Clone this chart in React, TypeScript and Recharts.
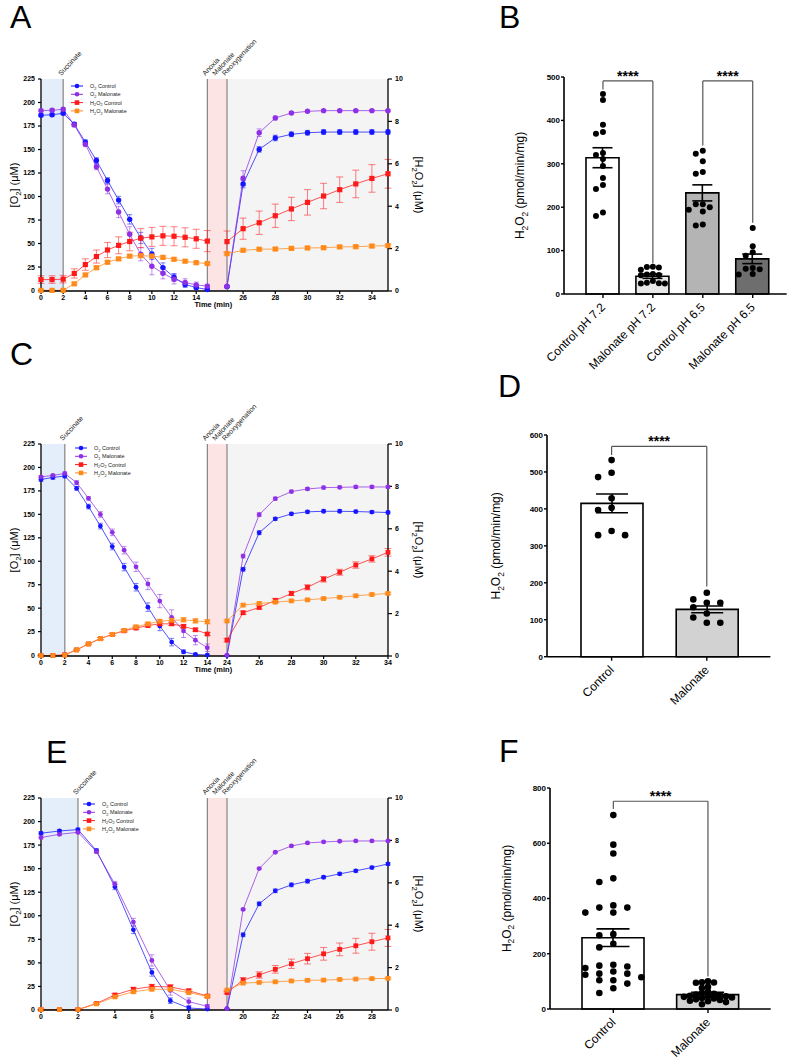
import React from "react";
import {
  LineChart,
  Line,
  XAxis,
  YAxis,
  ErrorBar,
  ReferenceArea,
  ReferenceLine,
  Legend,
  ComposedChart,
  Bar,
  Cell,
  Scatter,
} from "recharts";

const FONT = 'Arial, "Liberation Sans", Helvetica, sans-serif';
const BLUE = "#1515ff";
const PURPLE = "#8f2fe6";
const RED = "#ff1a1a";
const ORANGE = "#ff8a1c";

// ---------- Panel A (time course, pH 7.2) ----------
const aPreT = [0, 1, 2, 3, 4, 5, 6, 7, 8, 9, 10, 11, 12, 13, 14, 15];
const aPreO2Ctrl = [186.4, 187, 188.5, 176.9, 157.8, 138.3, 117, 96.2, 75.7, 55.9, 38.9, 24.4, 14.1, 6.4, 3.2, 1];
const aPreO2CtrlSem = [1.5, 1.5, 1.5, 2, 2.5, 3, 3, 4, 5, 6, 6, 5, 4, 3, 2, 1.5];
const aPreO2Mal = [191.4, 191.7, 192.8, 176.2, 155.6, 131.6, 107.9, 83.5, 59.8, 38.6, 25.8, 18.4, 12, 8.5, 6, 4.6];
const aPreO2MalSem = [1.5, 1.5, 1.5, 2, 2.5, 3, 5, 6, 8, 7, 9, 6, 5, 4, 3, 2];
const aPreH2O2Ctrl = [0.51, 0.51, 0.53, 0.8, 1.22, 1.6, 1.91, 2.13, 2.31, 2.47, 2.53, 2.58, 2.56, 2.51, 2.44, 2.33];
const aPreH2O2CtrlSem = [0.18, 0.18, 0.18, 0.22, 0.27, 0.31, 0.36, 0.4, 0.44, 0.45, 0.45, 0.45, 0.45, 0.45, 0.45, 0.5];
const aPreH2O2Mal = [0, 0, 0, 0.31, 0.73, 1.07, 1.33, 1.49, 1.62, 1.64, 1.62, 1.56, 1.47, 1.38, 1.31, 1.27];
const aPreH2O2MalSem = [0.03, 0.03, 0.03, 0.05, 0.06, 0.07, 0.07, 0.07, 0.07, 0.07, 0.07, 0.07, 0.06, 0.06, 0.06, 0.06];

const aPostT = [25, 26, 27, 28, 29, 30, 31, 32, 33, 34, 35];
const aPostO2Ctrl = [4.6, 113.5, 150.3, 162.4, 166.3, 168, 168.7, 168.7, 168.7, 168.7, 168.7];
const aPostO2CtrlSem = [1, 4, 3, 3, 2.5, 2.5, 2.5, 2.5, 2.5, 2.5, 2.5];
const aPostO2Mal = [5, 119.6, 168, 183.6, 188.9, 190.7, 191.4, 191.4, 191.4, 191.4, 191.4];
const aPostO2MalSem = [1, 8, 4, 2, 1.5, 1, 1, 1, 1, 1, 1];
const aPostH2O2Ctrl = [2.33, 2.94, 3.22, 3.55, 3.87, 4.18, 4.48, 4.78, 5.05, 5.31, 5.53];
const aPostH2O2CtrlSem = [0.5, 0.5, 0.55, 0.55, 0.55, 0.6, 0.6, 0.6, 0.65, 0.65, 0.68];
const aPostH2O2Mal = [1.76, 1.92, 1.97, 1.98, 2.01, 2.03, 2.04, 2.08, 2.09, 2.12, 2.14];
const aPostH2O2MalSem = [0.06, 0.06, 0.06, 0.06, 0.06, 0.06, 0.06, 0.06, 0.06, 0.07, 0.07];

// ---------- Panel C ----------
const cPreT = [0, 1, 2, 3, 4, 5, 6, 7, 8, 9, 10, 11, 12, 13, 14];
const cPreO2Ctrl = [187.2, 189.4, 190.8, 177.7, 158.3, 137.5, 115.7, 93.8, 72.3, 51.1, 31, 13.8, 3.5, 0.7, 0];
const cPreO2CtrlSem = [2, 2, 2, 2, 2.5, 3, 3.5, 4, 4, 4.5, 5, 4, 2, 1, 1];
const cPreO2Mal = [190, 191.5, 193.6, 183.7, 167.1, 149.9, 130.8, 111.8, 94.1, 75.8, 57.5, 40.2, 25.7, 15.9, 7.8];
const cPreO2MalSem = [1, 1, 1.5, 2, 2, 3, 3.5, 4, 5, 6, 7, 8, 7, 5, 4];
const cPreH2O2Ctrl = [0, 0, 0.04, 0.27, 0.55, 0.8, 1.0, 1.17, 1.3, 1.42, 1.5, 1.5, 1.38, 1.22, 1.02];
const cPreH2O2CtrlSem = [0.02, 0.02, 0.02, 0.03, 0.04, 0.05, 0.05, 0.06, 0.06, 0.07, 0.08, 0.08, 0.07, 0.07, 0.07];
const cPreH2O2Mal = [0, 0, 0.02, 0.27, 0.55, 0.8, 1.0, 1.19, 1.36, 1.5, 1.62, 1.67, 1.69, 1.64, 1.6];
const cPreH2O2MalSem = [0.02, 0.02, 0.02, 0.03, 0.04, 0.05, 0.05, 0.06, 0.07, 0.08, 0.09, 0.1, 0.1, 0.1, 0.1];

const cPostT = [24, 25, 26, 27, 28, 29, 30, 31, 32, 33, 34];
const cPostO2Ctrl = [0.5, 92, 130.8, 145.6, 150.9, 153, 153.6, 153.6, 153.3, 152.8, 152.3];
const cPostO2CtrlSem = [0.5, 2, 2, 1.5, 1.5, 1.5, 1.5, 1.5, 1.5, 1.5, 1.5];
const cPostO2Mal = [1, 106, 150, 167, 174.5, 177.3, 178.7, 179, 179.4, 179.4, 179.4];
const cPostO2MalSem = [0.5, 2, 2, 1.5, 1.5, 1.5, 1.5, 1.5, 1.5, 1.5, 1.5];
const cPostH2O2Ctrl = [0.75, 2.04, 2.29, 2.62, 2.95, 3.24, 3.62, 3.95, 4.29, 4.58, 4.89];
const cPostH2O2CtrlSem = [0.08, 0.08, 0.08, 0.1, 0.1, 0.12, 0.13, 0.14, 0.15, 0.15, 0.18];
const cPostH2O2Mal = [1.65, 2.4, 2.48, 2.54, 2.6, 2.65, 2.71, 2.77, 2.84, 2.9, 2.95];
const cPostH2O2MalSem = [0.05, 0.05, 0.05, 0.05, 0.05, 0.05, 0.05, 0.05, 0.05, 0.05, 0.05];

// ---------- Panel E ----------
const ePreT = [0, 1, 2, 3, 4, 5, 6, 7, 8, 9];
const ePreO2Ctrl = [187.6, 190, 191.5, 169.2, 130.7, 85.1, 39.9, 9.9, 2.1, 1];
const ePreO2CtrlSem = [1.5, 1.5, 1.5, 2, 3, 4, 4, 3, 2, 1];
const ePreO2Mal = [183, 186.5, 188.6, 168.1, 133.5, 93.3, 52.6, 20.8, 8.8, 3.9];
const ePreO2MalSem = [1.5, 1.5, 1.5, 2, 3, 4, 6, 5, 4, 2];
const ePreH2O2Ctrl = [0, 0, 0, 0.29, 0.69, 0.96, 1.09, 1.07, 0.89, 0.64];
const ePreH2O2CtrlSem = [0.02, 0.02, 0.02, 0.04, 0.07, 0.09, 0.1, 0.1, 0.08, 0.06];
const ePreH2O2Mal = [0, 0, 0, 0.27, 0.6, 0.84, 0.96, 0.96, 0.8, 0.62];
const ePreH2O2MalSem = [0.02, 0.02, 0.02, 0.03, 0.05, 0.06, 0.07, 0.07, 0.06, 0.05];

const ePostT = [19, 20, 21, 22, 23, 24, 25, 26, 27, 28, 29];
const ePostO2Ctrl = [1.4, 79.8, 112.7, 126.5, 132.8, 136.7, 140.9, 144.5, 147.7, 151.2, 155];
const ePostO2CtrlSem = [0.5, 2, 2, 2, 2, 2, 1.5, 1.5, 1.5, 1.5, 1.5];
const ePostO2Mal = [1.4, 106.7, 150.1, 167.4, 174.1, 177.3, 178.4, 179.1, 179.4, 179.4, 179.4];
const ePostO2MalSem = [0.5, 1, 1, 1, 1, 1, 1, 1, 1, 1, 1];
const ePostH2O2Ctrl = [0.82, 1.41, 1.65, 1.92, 2.18, 2.42, 2.65, 2.86, 3.03, 3.22, 3.4];
const ePostH2O2CtrlSem = [0.05, 0.12, 0.15, 0.18, 0.22, 0.25, 0.3, 0.3, 0.35, 0.4, 0.4];
const ePostH2O2Mal = [0.94, 1.27, 1.3, 1.33, 1.37, 1.4, 1.41, 1.44, 1.46, 1.48, 1.49];
const ePostH2O2MalSem = [0.04, 0.04, 0.04, 0.04, 0.04, 0.04, 0.04, 0.04, 0.04, 0.04, 0.04];

const o2Ticks = [0, 25, 50, 75, 100, 125, 150, 175, 200, 225];
const h2o2Ticks = [0, 2, 4, 6, 8, 10];

// ---------- Bar panels ----------
const bCats = ["Control pH 7.2", "Malonate pH 7.2", "Control pH 6.5", "Malonate pH 6.5"];
const bMeans = [314, 41, 233, 81];
const bSems = [23, 5, 18.5, 11];
const bCtrl72 = [461, 447, 390, 373, 369, 325, 320, 311, 295, 267, 251, 242, 188, 180];
const bMal72 = [63, 62, 61, 56, 46, 45, 44, 43, 30, 26, 25, 24, 24];
const bCtrl65 = [330, 323, 306, 281, 277, 207, 207, 200, 194, 190, 160, 158];
const bMal65 = [152, 110, 96, 88, 60, 58, 57, 46, 45];
const bTicks = [0, 100, 200, 300, 400, 500];

const dCats = ["Control", "Malonate"];
const dMeans = [415, 128];
const dSems = [25.5, 9];
const dCtrl = [532, 498, 486, 429, 403, 397, 340, 329, 329];
const dMal = [173, 155, 146, 146, 134, 117, 106, 92, 92];
const dTicks = [0, 100, 200, 300, 400, 500, 600];

const fCats = ["Control", "Malonate"];
const fMeans = [258, 52];
const fSems = [32, 8];
const fCtrl = [702, 595, 563, 473, 460, 375, 367, 367, 349, 349, 271, 267, 236, 223, 160, 157, 154, 148, 136, 128, 128, 124, 115, 104, 104, 92, 75, 58];
const fMal = [100, 97, 96, 95, 80, 76, 62, 58, 55, 52, 50, 48, 46, 45, 44, 42, 40, 38, 35, 33, 30, 28, 25, 17];
const fTicks = [0, 200, 400, 600, 800];

// layout of the split time axis (page px)
const PLOT_X0 = 41;
const ANOXIA_X = 207.3;
const REOX_X = 227.3;
const PLOT_X1 = 388.3;
const PLOT_H = 212;
const MT = 45;
const XH = 30;
const RIGHT_W = 42;

type Seg = {
  t: number[];
  oc: number[]; ocE: number[];
  om: number[]; omE: number[];
  hc: number[]; hcE: number[];
  hm: number[]; hmE: number[];
};

const seg = (t: number[], oc: number[], ocE: number[], om: number[], omE: number[], hc: number[], hcE: number[], hm: number[], hmE: number[]): Seg =>
  ({ t, oc, ocE, om, omE, hc, hcE, hm, hmE });

const toRows = (s: Seg) =>
  s.t.map((t, i) => ({
    t,
    oc: s.oc[i], ocE: s.ocE[i],
    om: s.om[i], omE: s.omE[i],
    hc: s.hc[i], hcE: s.hcE[i],
    hm: s.hm[i], hmE: s.hmE[i],
  }));

const SERIES = [
  { key: "oc", name: "O_2 Control", color: BLUE, shape: "circle", axis: "o2" },
  { key: "om", name: "O_2 Malonate", color: PURPLE, shape: "circle", axis: "o2" },
  { key: "hc", name: "H_2O_2 Control", color: RED, shape: "square", axis: "h" },
  { key: "hm", name: "H_2O_2 Malonate", color: ORANGE, shape: "square", axis: "h" },
];

// text with "_2" style subscripts as svg tspans
function chem(s: string, fs: number) {
  const parts = s.split(/_(\d)/);
  const out: React.ReactNode[] = [];
  let shifted = false;
  parts.forEach((p, i) => {
    if (p === "") return;
    if (i % 2 === 1) {
      out.push(<tspan key={i} dy={fs * 0.3} fontSize={fs * 0.7}>{p}</tspan>);
      shifted = true;
    } else {
      out.push(<tspan key={i} dy={shifted ? -fs * 0.3 : 0}>{p}</tspan>);
      shifted = false;
    }
  });
  return out;
}

const slantLabel = (text: string, center = false) => (p: any) => {
  const vb = p.viewBox || {};
  const x = (vb.x ?? 0) + (center ? (vb.width ?? 0) / 2 : 0) - 2;
  const y = (vb.y ?? 0) - 3;
  return (
    <text x={x} y={y} transform={`rotate(-47 ${x} ${y})`} fontSize={7} fontFamily={FONT} fill="#222">
      {text}
    </text>
  );
};

// vertical axis title at a fixed spot of the chart surface
const vTitle = (text: string, cx: number, cy: number, angle: number, fs: number) => () =>
  (
    <text x={cx} y={cy} transform={`rotate(${angle} ${cx} ${cy})`} textAnchor="middle" fontSize={fs} fontFamily={FONT} fill="#000">
      {chem(text, fs)}
    </text>
  );

const squareDot = (color: string, s: number) => (p: any) =>
  p.cx == null ? <g key={p.index} /> : <rect key={p.index} x={p.cx - s / 2} y={p.cy - s / 2} width={s} height={s} fill={color} />;
const circleDot = (color: string, r: number) => (p: any) =>
  p.cx == null ? <g key={p.index} /> : <circle key={p.index} cx={p.cx} cy={p.cy} r={r} fill={color} />;

function TcLegend(props: any) {
  const items = [...(props.payload ?? [])].sort(
    (a: any, b: any) => SERIES.findIndex((s) => s.key === a.dataKey) - SERIES.findIndex((s) => s.key === b.dataKey)
  );
  return (
    <svg width={80} height={36} style={{ display: "block" }}>
      {items.map((it: any, i: number) => {
        const y = 3 + i * 8.3;
        return (
          <g key={i}>
            <line x1={0} x2={12} y1={y} y2={y} stroke={it.color} strokeWidth={1} />
            {it.type === "square" ? (
              <rect x={3.7} y={y - 2.3} width={4.6} height={4.6} fill={it.color} />
            ) : (
              <circle cx={6} cy={y} r={2.3} fill={it.color} />
            )}
            <text x={19} y={y + 2} fontSize={5.5} fontFamily={FONT} fill="#222">
              {chem(it.value, 5.5)}
            </text>
          </g>
        );
      })}
    </svg>
  );
}

const axisLine = { stroke: "#000", strokeWidth: 1.3 };
const tickLine = { stroke: "#000", strokeWidth: 1.2 };
const tcTick = { fontSize: 7, fontWeight: 700, fill: "#000", fontFamily: FONT };

function seriesLines(big: boolean) {
  const r = big ? 2.7 : 2.4;
  const s2 = big ? 5.2 : 4.8;
  return SERIES.map((s) => (
    <Line
      key={s.key}
      yAxisId={s.axis}
      dataKey={s.key}
      name={s.name}
      legendType={s.shape as any}
      stroke={s.color}
      strokeOpacity={0.75}
      strokeWidth={1}
      dot={s.shape === "square" ? squareDot(s.color, s2) : circleDot(s.color, r)}
      activeDot={false}
      isAnimationActive={false}
    >
      <ErrorBar
        dataKey={s.key + "E"}
        width={s.shape === "square" ? 3.5 : 2.5}
        stroke={s.color}
        strokeOpacity={0.55}
        strokeWidth={1}
      />
    </Line>
  ));
}

function TimeCourse(props: {
  top: number;
  pre: Seg;
  post: Seg;
  preTicks: number[];
  postTicks: number[];
  legendX: number;
  legendY: number;
  showTime: boolean;
  big: boolean;
}) {
  const { top, pre, post, preTicks, postTicks, legendX, legendY, showTime, big } = props;
  const anoxiaT = pre.t[pre.t.length - 1];
  const leftMax = (anoxiaT * (REOX_X - PLOT_X0)) / (ANOXIA_X - PLOT_X0);
  const postStart = post.t[0];
  const postEnd = post.t[post.t.length - 1];
  const h = MT + PLOT_H + XH;
  const cTop = top - MT;
  const midY = MT + PLOT_H / 2;

  return (
    <>
      <div style={{ position: "absolute", left: 0, top: cTop }}>
        <LineChart width={REOX_X} height={h} data={toRows(pre)} margin={{ top: MT, right: 0, bottom: 0, left: 0 }}>
          <ReferenceArea yAxisId="o2" x1={0} x2={2} fill="#e4eefa" fillOpacity={1} stroke="none" />
          <ReferenceArea
            yAxisId="o2"
            x1={anoxiaT}
            x2={leftMax}
            fill="#fde4e4"
            fillOpacity={1}
            stroke="none"
            label={slantLabel("Malonate", true)}
          />
          <ReferenceLine yAxisId="o2" x={2} stroke="#9a9a9a" strokeWidth={1.5} label={slantLabel("Succinate")} />
          <ReferenceLine yAxisId="o2" x={anoxiaT} stroke="#6f6f6f" strokeWidth={1} label={slantLabel("Anoxia")} />
          <XAxis
            dataKey="t"
            type="number"
            domain={[0, leftMax]}
            ticks={preTicks}
            interval={0}
            height={XH}
            tickSize={3}
            tickMargin={1}
            tick={tcTick}
            axisLine={axisLine}
            tickLine={tickLine}
            label={
              showTime
                ? () => (
                    <text x={REOX_X - 14} y={MT + PLOT_H + 16} textAnchor="middle" fontSize={7.5} fontWeight={700} fontFamily={FONT} fill="#000">
                      Time (min)
                    </text>
                  )
                : undefined
            }
          />
          <YAxis
            yAxisId="o2"
            domain={[0, 225]}
            ticks={o2Ticks}
            interval={0}
            width={PLOT_X0}
            tickSize={3}
            tickMargin={3}
            tick={tcTick}
            axisLine={axisLine}
            tickLine={tickLine}
            label={vTitle("[O_2] (μM)", 17.7, midY, -90, 11)}
          />
          <YAxis yAxisId="h" orientation="right" hide domain={[0, 10]} />
          {seriesLines(big)}
          <Legend
            layout="vertical"
            align="center"
            verticalAlign="middle"
            content={<TcLegend />}
            wrapperStyle={{ left: legendX, top: legendY - cTop - 3, width: 80, height: 36 }}
          />
        </LineChart>
      </div>
      <div style={{ position: "absolute", left: REOX_X, top: cTop }}>
        <LineChart width={PLOT_X1 - REOX_X + RIGHT_W} height={h} data={toRows(post)} margin={{ top: MT, right: 0, bottom: 0, left: 0 }}>
          <ReferenceArea yAxisId="h" x1={postStart} x2={postEnd} fill="#f4f4f4" fillOpacity={1} stroke="none" />
          <ReferenceLine yAxisId="h" x={postStart} stroke="#6f6f6f" strokeWidth={1} label={slantLabel("Reoxygenation")} />
          <XAxis
            dataKey="t"
            type="number"
            domain={[postStart, postEnd]}
            ticks={postTicks}
            interval={0}
            height={XH}
            tickSize={3}
            tickMargin={1}
            tick={tcTick}
            axisLine={axisLine}
            tickLine={tickLine}
          />
          <YAxis yAxisId="o2" hide domain={[0, 225]} />
          <YAxis
            yAxisId="h"
            orientation="right"
            domain={[0, 10]}
            ticks={h2o2Ticks}
            interval={0}
            width={RIGHT_W}
            tickSize={4}
            tickMargin={3}
            tick={tcTick}
            axisLine={axisLine}
            tickLine={tickLine}
            label={vTitle("[H_2O_2] (μM)", PLOT_X1 - REOX_X + 27, midY, 90, 11)}
          />
          {seriesLines(big)}
        </LineChart>
      </div>
    </>
  );
}

// simple beeswarm: horizontal offsets (px) so dots do not overlap
function swarm(vals: number[], ppu: number, step: number, gap: number): number[] {
  const placed: { y: number; x: number }[] = [];
  return vals.map((v) => {
    const y = v * ppu;
    for (let k = 0; k < 60; k++) {
      const x = (k % 2 === 1 ? -1 : 1) * Math.ceil(k / 2) * step;
      if (placed.every((p) => Math.hypot(p.y - y, p.x - x) >= gap)) {
        placed.push({ y, x });
        return x;
      }
    }
    return 0;
  });
}

const RotTick = (p: any) => {
  const { x, y, payload } = p;
  const ax = x + 3;
  const ay = y + 8;
  return (
    <text x={ax} y={ay} transform={`rotate(-45 ${ax} ${ay})`} textAnchor="end" fontSize={12} fontFamily={FONT} fill="#000">
      {payload.value}
    </text>
  );
};

type Bracket = { from: string; to: string; y1: number; top: number; y2: number };

const BT = 14;
const XHB = 80;
const YW = 62;

function BarPanel(props: {
  axisX: number;
  plotTop: number;
  plotH: number;
  plotW: number;
  yMax: number;
  yTicks: number[];
  cats: string[];
  means: number[];
  sems: number[];
  fills: string[];
  dots: number[][];
  steps: number[];
  gaps: number[];
  barSize: number;
  cap: number;
  pad: { left: number; right: number };
  brackets: Bracket[];
  r: number;
  titleX: number;
}) {
  const { axisX, plotTop, plotH, plotW, yMax, yTicks, cats, means, sems, fills, dots, steps, gaps, barSize, cap, pad, brackets, r, titleX } = props;
  const data = cats.map((c, i) => ({ name: c, mean: means[i], sem: sems[i] }));
  const ppu = plotH / yMax;
  const pts = cats.flatMap((c, i) => {
    const dx = swarm(dots[i], ppu, steps[i], gaps[i]);
    return dots[i].map((v, j) => ({ name: c, value: v, dx: dx[j] }));
  });
  return (
    <div style={{ position: "absolute", left: axisX - YW, top: plotTop - BT }}>
      <ComposedChart width={YW + plotW} height={BT + plotH + XHB} data={data} margin={{ top: BT, right: 0, bottom: 0, left: 0 }}>
        <XAxis
          dataKey="name"
          type="category"
          allowDuplicatedCategory={false}
          padding={pad}
          height={XHB}
          interval={0}
          tickSize={4}
          tickMargin={2}
          tick={RotTick}
          axisLine={{ stroke: "#000", strokeWidth: 1.6 }}
          tickLine={{ stroke: "#000", strokeWidth: 1.4 }}
        />
        <YAxis
          domain={[0, yMax]}
          ticks={yTicks}
          interval={0}
          width={YW}
          tickSize={3}
          tickMargin={1}
          tick={{ fontSize: 8, fontWeight: 700, fill: "#000", fontFamily: FONT }}
          axisLine={{ stroke: "#000", strokeWidth: 1.6 }}
          tickLine={{ stroke: "#000", strokeWidth: 1.4 }}
          label={vTitle("H_2O_2 (pmol/min/mg)", titleX, BT + plotH / 2, -90, 12)}
        />
        <Bar dataKey="mean" barSize={barSize} stroke="#000" strokeWidth={1.6} isAnimationActive={false}>
          {fills.map((f, i) => (
            <Cell key={i} fill={f} />
          ))}
          <ErrorBar dataKey="sem" width={cap} stroke="#000" strokeWidth={1.6} />
        </Bar>
        <Scatter
          data={pts}
          dataKey="value"
          isAnimationActive={false}
          shape={(p: any) => <circle cx={p.cx + (p.payload?.dx ?? 0)} cy={p.cy} r={r} fill="#000" />}
        />
        {brackets.flatMap((b, i) => [
          <ReferenceLine key={`a${i}`} segment={[{ x: b.from, y: b.y1 }, { x: b.from, y: b.top }]} stroke="#555" strokeWidth={1.2} />,
          <ReferenceLine
            key={`b${i}`}
            segment={[{ x: b.from, y: b.top }, { x: b.to, y: b.top }]}
            stroke="#555"
            strokeWidth={1.2}
            label={{ value: "****", position: "top", offset: 0, fontSize: 14, fontWeight: 700, fill: "#000", fontFamily: FONT }}
          />,
          <ReferenceLine key={`c${i}`} segment={[{ x: b.to, y: b.top }, { x: b.to, y: b.y2 }]} stroke="#555" strokeWidth={1.2} />,
        ])}
      </ComposedChart>
    </div>
  );
}

const panelA = {
  pre: seg(aPreT, aPreO2Ctrl, aPreO2CtrlSem, aPreO2Mal, aPreO2MalSem, aPreH2O2Ctrl, aPreH2O2CtrlSem, aPreH2O2Mal, aPreH2O2MalSem),
  post: seg(aPostT, aPostO2Ctrl, aPostO2CtrlSem, aPostO2Mal, aPostO2MalSem, aPostH2O2Ctrl, aPostH2O2CtrlSem, aPostH2O2Mal, aPostH2O2MalSem),
};
const panelC = {
  pre: seg(cPreT, cPreO2Ctrl, cPreO2CtrlSem, cPreO2Mal, cPreO2MalSem, cPreH2O2Ctrl, cPreH2O2CtrlSem, cPreH2O2Mal, cPreH2O2MalSem),
  post: seg(cPostT, cPostO2Ctrl, cPostO2CtrlSem, cPostO2Mal, cPostO2MalSem, cPostH2O2Ctrl, cPostH2O2CtrlSem, cPostH2O2Mal, cPostH2O2MalSem),
};
const panelE = {
  pre: seg(ePreT, ePreO2Ctrl, ePreO2CtrlSem, ePreO2Mal, ePreO2MalSem, ePreH2O2Ctrl, ePreH2O2CtrlSem, ePreH2O2Mal, ePreH2O2MalSem),
  post: seg(ePostT, ePostO2Ctrl, ePostO2CtrlSem, ePostO2Mal, ePostO2MalSem, ePostH2O2Ctrl, ePostH2O2CtrlSem, ePostH2O2Mal, ePostH2O2MalSem),
};

export default function App() {
  const letter = (t: string, x: number, y: number) => (
    <text key={t} x={x} y={y} fontSize={32} fontFamily={FONT} fill="#000">
      {t}
    </text>
  );
  return (
    <div style={{ position: "absolute", left: 0, top: 0, width: 790, height: 1062, overflow: "hidden", background: "#fff", fontFamily: FONT }}>
      <style>{".recharts-surface{overflow:visible}"}</style>
      <svg width={790} height={1062} style={{ position: "absolute", left: 0, top: 0 }}>
        {letter("A", 10, 28)}
        {letter("B", 499, 28)}
        {letter("C", 10, 365)}
        {letter("D", 498, 397)}
        {letter("E", 46, 763)}
        {letter("F", 499, 762)}
      </svg>

      <TimeCourse top={79} pre={panelA.pre} post={panelA.post} preTicks={[0, 2, 4, 6, 8, 10, 12, 14]} postTicks={[26, 28, 30, 32, 34]} legendX={71} legendY={85.7} showTime big />
      <TimeCourse top={443.5} pre={panelC.pre} post={panelC.post} preTicks={[0, 2, 4, 6, 8, 10, 12, 14]} postTicks={[24, 26, 28, 30, 32, 34]} legendX={75} legendY={448} showTime big={false} />
      <TimeCourse top={798} pre={panelE.pre} post={panelE.post} preTicks={[0, 2, 4, 6, 8]} postTicks={[20, 22, 24, 26, 28]} legendX={83} legendY={804.3} showTime={false} big={false} />

      <BarPanel
        axisX={564.3}
        plotTop={77.3}
        plotH={217}
        plotW={222.7}
        yMax={500}
        yTicks={bTicks}
        cats={bCats}
        means={bMeans}
        sems={bSems}
        fills={["#ffffff", "#e8e8e8", "#b4b4b4", "#6e6e6e"]}
        dots={[bCtrl72, bMal72, bCtrl65, bMal65]}
        steps={[7, 6, 7, 7]}
        gaps={[6, 5, 6, 6]}
        barSize={33}
        cap={10}
        pad={{ left: 14, right: 9 }}
        brackets={[
          { from: bCats[0], to: bCats[1], y1: 471, top: 491, y2: 71 },
          { from: bCats[2], to: bCats[3], y1: 342, top: 491, y2: 164 },
        ]}
        r={3}
        titleX={22.5}
      />
      <BarPanel
        axisX={547.3}
        plotTop={435}
        plotH={221.7}
        plotW={223.4}
        yMax={600}
        yTicks={dTicks}
        cats={dCats}
        means={dMeans}
        sems={dSems}
        fills={["#ffffff", "#d2d2d2"]}
        dots={[dCtrl, dMal]}
        steps={[13.5, 13.5]}
        gaps={[7, 7]}
        barSize={62}
        cap={16}
        pad={{ left: 17, right: 16 }}
        brackets={[{ from: dCats[0], to: dCats[1], y1: 546, top: 569, y2: 190 }]}
        r={3.3}
        titleX={15}
      />
      <BarPanel
        axisX={550}
        plotTop={788.3}
        plotH={221}
        plotW={220.7}
        yMax={800}
        yTicks={fTicks}
        cats={fCats}
        means={fMeans}
        sems={fSems}
        fills={["#ffffff", "#d2d2d2"]}
        dots={[fCtrl, fMal]}
        steps={[14, 6]}
        gaps={[6, 4.5]}
        barSize={62}
        cap={16.5}
        pad={{ left: 16, right: 15.4 }}
        brackets={[{ from: fCats[0], to: fCats[1], y1: 724, top: 752, y2: 118 }]}
        r={3.3}
        titleX={22.7}
      />
    </div>
  );
}
